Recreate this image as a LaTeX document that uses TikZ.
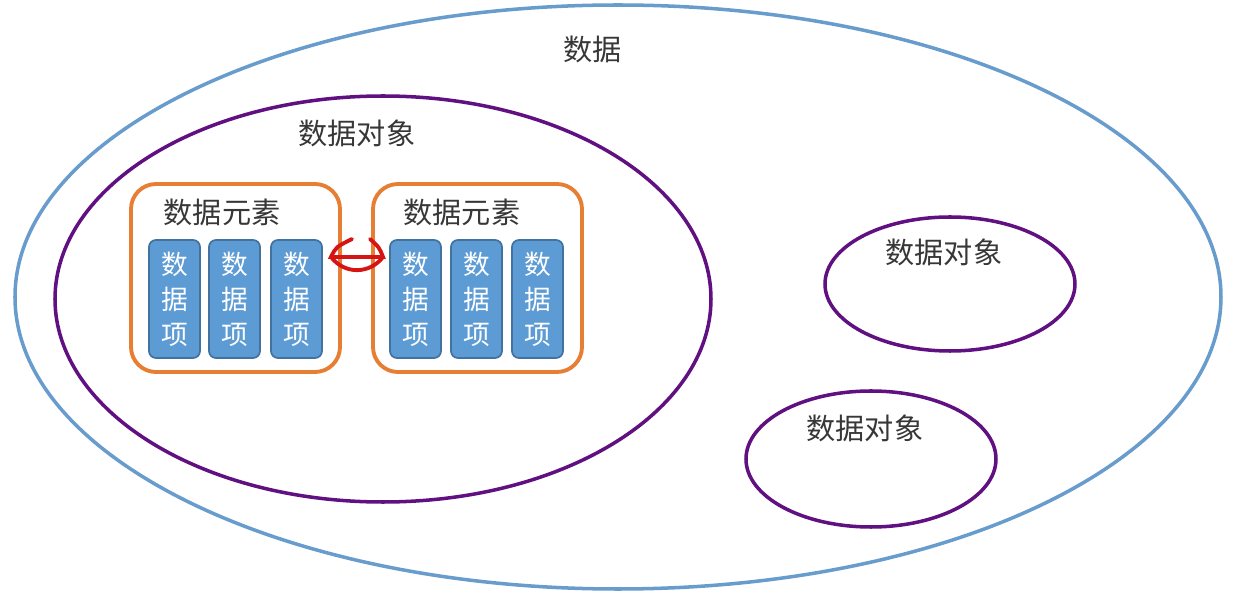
\documentclass[tikz,border=0pt]{standalone}
\usepackage{fontspec}
\setmainfont{Noto Sans CJK SC}
\usetikzlibrary{shapes.geometric}
\definecolor{setblue}{RGB}{104,156,205}
\definecolor{objpurple}{RGB}{96,16,128}
\definecolor{eleorange}{RGB}{230,126,52}
\definecolor{itemfill}{RGB}{93,155,212}
\definecolor{itemdraw}{RGB}{66,114,160}
\definecolor{txtgray}{RGB}{55,55,55}
\definecolor{markred}{RGB}{215,20,20}
\begin{document}
\begin{tikzpicture}[
    setell/.style={draw=setblue,line width=1pt,shape=ellipse,inner sep=0pt},
    objell/.style={draw=objpurple,line width=1pt,shape=ellipse,inner sep=0pt},
    elebox/.style={draw=eleorange,line width=1.1pt,rectangle,rounded corners=0.25cm,minimum width=2.09cm,minimum height=1.88cm},
    itembox/.style={draw=itemdraw,fill=itemfill,line width=0.5pt,rectangle,rounded corners=0.07cm,minimum width=0.51cm,minimum height=1.18cm,text=white,align=center,inner sep=0pt,font=\fontsize{7.6pt}{10pt}\selectfont},
    lbl/.style={text=txtgray,inner sep=0pt,font=\fontsize{8.3pt}{10pt}\selectfont}]
        \useasboundingbox (0,0) rectangle (12.34,5.97);
        % sets
        \node[setell,minimum width=12.06cm,minimum height=5.84cm] (data) at (6.18,3.00) {};
        \node[lbl] (datal) at (5.93,5.48) {数据};
        \node[objell,minimum width=6.56cm,minimum height=4.06cm] (obja) at (3.83,2.98) {};
        \node[lbl] (objal) at (3.57,4.64) {数据对象};
        \node[objell,minimum width=2.50cm,minimum height=1.34cm] (objb) at (9.50,3.13) {};
        \node[lbl] (objbl) at (9.44,3.45) {数据对象};
        \node[objell,minimum width=2.50cm,minimum height=1.36cm] (objc) at (8.71,1.38) {};
        \node[lbl] (objcl) at (8.65,1.69) {数据对象};
        % elements
        \node[elebox] (ea) at (2.355,3.19) {};
        \node[lbl] (eal) at (2.22,3.85) {数据元素};
        \node[elebox] (eb) at (4.775,3.19) {};
        \node[lbl] (ebl) at (4.62,3.85) {数据元素};
        % items
        \node[itembox] (ia1) at (1.745,2.98) {数\\据\\项};
        \node[itembox] (ia2) at (2.345,2.98) {数\\据\\项};
        \node[itembox] (ia3) at (2.965,2.98) {数\\据\\项};
        \node[itembox] (ib1) at (4.155,2.98) {数\\据\\项};
        \node[itembox] (ib2) at (4.765,2.98) {数\\据\\项};
        \node[itembox] (ib3) at (5.375,2.98) {数\\据\\项};
        % hand mark between the elements
        \coordinate (ml) at (3.31,3.40);\coordinate (mr) at (3.83,3.40);
        \draw[markred,line width=1.1pt,line cap=round] (3.52,3.58) .. controls (3.36,3.50) .. (ml) -- (mr) .. controls (3.79,3.50) .. (3.70,3.58);
        \draw[markred,line width=1.1pt,line cap=round] (ml) .. controls (3.45,3.22) and (3.70,3.23) .. (mr);
      \end{tikzpicture}
\end{document}
